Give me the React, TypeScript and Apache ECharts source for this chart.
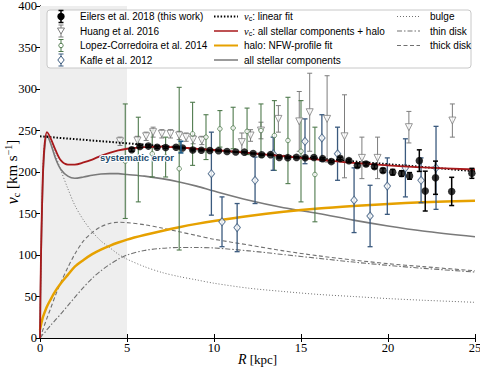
import React, { useEffect, useRef } from 'react';
import * as echarts from 'echarts';

// ---------- data ----------
const eilersR = [5.27, 5.74, 6.23, 6.73, 7.22, 7.82, 8.19, 8.78, 9.27, 9.76, 10.26, 10.75, 11.25, 11.75, 12.25, 12.74, 13.25, 13.75, 14.24, 14.74, 15.24, 15.74, 16.24, 16.74, 17.25, 17.75, 18.24, 18.74, 19.22, 19.71, 20.27, 20.78, 21.24, 21.8, 22.14, 22.73, 23.66, 24.82];
const eilersV = [226.8, 230.8, 231.2, 229.9, 229.6, 229.9, 228.9, 226.5, 226.2, 225.9, 225.7, 224.7, 224.0, 223.9, 222.2, 220.8, 220.9, 217.5, 217.3, 217.6, 217.1, 217.4, 216.1, 212.5, 216.4, 213.7, 207.9, 209.6, 206.5, 201.9, 199.8, 198.1, 195.3, 213.7, 177.0, 193.1, 176.6, 198.4];
const eilersErr = [1.9, 1.4, 1.4, 1.4, 1.2, 0.9, 0.7, 1.0, 0.7, 0.5, 0.4, 0.4, 0.3, 0.4, 0.5, 0.6, 0.6, 0.7, 0.7, 0.7, 1.0, 0.9, 1.2, 1.2, 1.5, 1.8, 2.3, 2.2, 2.4, 2.5, 3.3, 3.3, 4.0, 13, 24, 20, 17, 6];

const huangR = [4.6, 5.6, 6.1, 6.5, 7.0, 7.5, 8.0, 8.4, 8.8, 9.3, 11.6, 12.1, 12.7, 13.7, 14.9, 15.5, 16.5, 17.5, 18.5, 19.4, 21.2, 23.7];
const huangV = [237, 238, 243, 248, 246, 246, 244, 242, 239, 238, 236, 244, 250, 264, 261, 272, 264, 243, 217, 217, 254, 262];
const huangErr = [5, 5, 5, 6, 5, 5, 5, 5, 5, 5, 11, 7, 10, 16, 36, 47, 52, 50, 25, 25, 19, 20];

const lopezR = [4.9, 5.65, 6.45, 7.22, 8.0, 8.77, 9.54, 10.34, 11.1, 11.9, 12.7, 13.47, 14.25, 15.0, 15.8];
const lopezV = [213, 215, 222, 218, 204, 246, 242, 252, 253, 249, 250, 244, 238, 225, 197];
const lopezErr = [69, 51, 28, 24, 98, 38, 27, 22, 25, 28, 32, 42, 52, 61, 57];

const kafleR = [9.85, 10.46, 11.33, 12.36, 13.4, 15.23, 16.2, 17.1, 18.05, 18.97, 19.96, 21.0, 21.9, 22.76];
const kafleV = [198, 140, 133, 190, 222, 237, 241, 222, 166, 147, 183, 205, 190, 205];
const kafleErr = [50, 30, 29, 28, 20, 27, 28, 32, 39, 37, 34, 35, 27, 50];

const sysR = [8.1];
const sysLo = [223];
const sysHi = [237];

const linFitR = [0, 25];
const linFitV = [243, 201];

const curveR = [0, 0.05, 0.15, 0.25, 0.4, 0.6, 0.9, 1.2, 1.6, 2, 2.5, 3, 3.5, 4, 4.5, 5, 6, 7, 8, 9, 10, 12, 14, 16, 18, 20, 22, 25];
const totalV = [0, 90, 186, 230, 248, 241, 226, 214, 209, 209, 211.5, 215, 219.5, 223, 226, 228, 230, 230.5, 229.5, 228, 226.5, 223, 219, 215, 211, 208, 205.5, 203];
const stellarV = [0, 85, 180, 224, 244, 235, 216, 203, 195, 192.5, 194, 196, 197.5, 198, 198, 197, 195, 192, 188, 183, 177, 166, 157, 150, 142, 135, 129, 122];
const haloV = [10, 15, 24, 30, 38, 46, 57, 66, 76, 86, 94, 101, 106.5, 111, 115, 118.5, 124, 129, 133.5, 137.5, 141, 147, 152, 156, 159, 161.5, 163.5, 165.5];
const thickV = [0, 3, 9, 15, 24, 35, 52, 67, 85, 101, 117, 127, 134, 138, 139.5, 139, 136.5, 132.5, 128, 123.5, 119, 112, 105, 99, 94, 89.5, 86, 81];
const thinV = [0, 1, 4, 6, 10, 15, 22, 29, 39, 49, 61, 72, 81, 88.5, 95, 100, 105.5, 108, 109, 109, 108.5, 105, 100.5, 96, 91.5, 87.5, 84, 79.5];
const bulgeV = [0, 80, 190, 232, 244, 238, 220, 202, 180, 160, 142, 128, 117, 109, 101, 95, 86, 79, 74, 70, 66, 60, 56, 52.5, 50, 47.5, 45.5, 43];

const shadeRange = [0, 5];
const xTicks = { min: 0, max: 25, interval: 5 };
const yTicks = { min: 0, max: 400, interval: 50 };

const col1Labels = ['Eilers et al. 2018 (this work)', 'Huang et al. 2016', 'Lopez-Corredoira et al. 2014', 'Kafle et al. 2012'];
const col2Labels = ['{v|v}{c|c}: linear fit', '{v|v}{c|c}: all stellar components + halo', 'halo: NFW-profile fit', 'all stellar components'];
const col3Labels = ['bulge', 'thin disk', 'thick disk'];

// ---------- styles ----------
const C = {
  eilers: '#000000',
  huang: '#7d7d7d',
  lopez: '#4f7a4d',
  kafle: '#3b5a7e',
  red: '#a8191b',
  orange: '#e6a100',
  stellar: '#7a7a7a',
  comp: '#707070',
  sys: '#1d5a86',
};
const serif = 'Liberation Serif, Times New Roman, serif';
const sans = 'Liberation Sans, Arial, sans-serif';
const LZ = 100;

const zip = (a: number[], b: number[]) => a.map((x, i) => [x, b[i]]);

function errSeries(name: string, R: number[], V: number[], E: number[], color: string, lw: number, cap: number, z: number) {
  return {
    type: 'custom',
    name,
    z,
    silent: true,
    data: R.map((r, i) => [r, V[i] - E[i], V[i] + E[i]]),
    encode: { x: 0, y: [1, 2] },
    renderItem: (_p: any, api: any) => {
      const lo = api.coord([api.value(0), api.value(1)]);
      const hi = api.coord([api.value(0), api.value(2)]);
      const st = { stroke: color, lineWidth: lw };
      return {
        type: 'group',
        children: [
          { type: 'line', shape: { x1: lo[0], y1: lo[1], x2: hi[0], y2: hi[1] }, style: st },
          { type: 'line', shape: { x1: lo[0] - cap, y1: lo[1], x2: lo[0] + cap, y2: lo[1] }, style: st },
          { type: 'line', shape: { x1: hi[0] - cap, y1: hi[1], x2: hi[0] + cap, y2: hi[1] }, style: st },
        ],
      };
    },
  };
}

function curve(name: string, V: number[], color: string, width: number, type: any, z = 2) {
  return {
    type: 'line',
    name,
    z,
    data: zip(curveR, V),
    showSymbol: false,
    symbol: 'none',
    smooth: 0.3,
    silent: true,
    lineStyle: { color, width, type },
  };
}

function buildLegend() {
  const rows = [16.5, 31, 45.5, 60];
  const els: any[] = [];
  els.push({
    type: 'rect', z: LZ,
    shape: { x: 47, y: 10, width: 424, height: 58, r: 3 },
    style: { fill: 'rgba(255,255,255,0.9)', stroke: '#c8c8c8', lineWidth: 1 },
  });
  const mx = 61;
  const bar = (y: number, color: string, lw: number) => [
    { type: 'line', z: LZ + 1, shape: { x1: mx, y1: y - 6, x2: mx, y2: y + 6 }, style: { stroke: color, lineWidth: lw } },
    { type: 'line', z: LZ + 1, shape: { x1: mx - 2.5, y1: y - 6, x2: mx + 2.5, y2: y - 6 }, style: { stroke: color, lineWidth: lw } },
    { type: 'line', z: LZ + 1, shape: { x1: mx - 2.5, y1: y + 6, x2: mx + 2.5, y2: y + 6 }, style: { stroke: color, lineWidth: lw } },
  ];
  els.push(...bar(rows[0], C.eilers, 1.5));
  els.push({ type: 'circle', z: LZ + 2, shape: { cx: mx, cy: rows[0], r: 3.7 }, style: { fill: '#000' } });
  els.push(...bar(rows[1], C.huang, 1));
  els.push({ type: 'polygon', z: LZ + 2, shape: { points: [[mx - 3.5, rows[1] - 3], [mx + 3.5, rows[1] - 3], [mx, rows[1] + 3]] }, style: { fill: '#fff', stroke: C.huang, lineWidth: 1 } });
  els.push(...bar(rows[2], C.lopez, 1));
  els.push({ type: 'circle', z: LZ + 2, shape: { cx: mx, cy: rows[2], r: 2.2 }, style: { fill: '#fff', stroke: C.lopez, lineWidth: 1 } });
  els.push(...bar(rows[3], C.kafle, 1));
  els.push({ type: 'polygon', z: LZ + 2, shape: { points: [[mx, rows[3] - 4], [mx + 3.2, rows[3]], [mx, rows[3] + 4], [mx - 3.2, rows[3]]] }, style: { fill: '#fff', stroke: C.kafle, lineWidth: 1 } });
  const fs = 10;
  col1Labels.forEach((t, i) => {
    els.push({ type: 'text', z: LZ + 2, x: 80, y: rows[i], style: { text: t, fontFamily: sans, fontSize: fs, fill: '#000', verticalAlign: 'middle', align: 'left' } });
  });
  const col2Lines = [
    { color: '#000', width: 2, dash: [1.5, 1.8] },
    { color: C.red, width: 1.5, dash: null },
    { color: C.orange, width: 2, dash: null },
    { color: C.stellar, width: 1.5, dash: null },
  ];
  col2Lines.forEach((l, i) => {
    els.push({ type: 'line', z: LZ + 1, shape: { x1: 214, y1: rows[i], x2: 238, y2: rows[i] }, style: { stroke: l.color, lineWidth: l.width, lineDash: l.dash || undefined } });
  });
  const rich = {
    v: { fontFamily: serif, fontStyle: 'italic', fontSize: 10.5 },
    c: { fontFamily: sans, fontSize: 7, verticalAlign: 'bottom', lineHeight: 8 },
  };
  col2Labels.forEach((t, i) => {
    els.push({ type: 'text', z: LZ + 2, x: 244, y: rows[i], style: { text: t, rich, fontFamily: sans, fontSize: fs, fill: '#000', verticalAlign: 'middle', align: 'left' } });
  });
  const col3Lines = [
    { color: C.comp, width: 1, dash: [1, 2] },
    { color: C.comp, width: 1.1, dash: [5, 2, 1.5, 2] },
    { color: C.comp, width: 1.1, dash: [4, 2.5] },
  ];
  col3Lines.forEach((l, i) => {
    els.push({ type: 'line', z: LZ + 1, shape: { x1: 397, y1: rows[i], x2: 420, y2: rows[i] }, style: { stroke: l.color, lineWidth: l.width, lineDash: l.dash } });
  });
  col3Labels.forEach((t, i) => {
    els.push({ type: 'text', z: LZ + 2, x: 430, y: rows[i], style: { text: t, fontFamily: sans, fontSize: fs, fill: '#000', verticalAlign: 'middle', align: 'left' } });
  });
  return els;
}

function buildOption() {
  const axisCommon = {
    axisLine: { show: true, lineStyle: { color: '#000', width: 1 } },
    axisTick: { show: true, inside: true, length: 4, lineStyle: { color: '#000' } },
    splitLine: { show: false },
  };
  return {
    animation: false,
    backgroundColor: '#fff',
    grid: { left: 40, right: 5, top: 6, bottom: 31, containLabel: false, outerBoundsMode: 'none' },
    xAxis: [
      {
        type: 'value', ...xTicks, position: 'bottom',
        ...axisCommon,
        axisLabel: { fontFamily: serif, fontSize: 12.5, color: '#000', margin: 3 },
        name: '{i|R} [kpc]',
        nameLocation: 'middle',
        nameGap: 14,
        nameMoveOverlap: false,
        nameTextStyle: { fontFamily: serif, fontSize: 13, color: '#000', rich: { i: { fontFamily: serif, fontStyle: 'italic', fontSize: 14 } } },
      },
      { type: 'value', ...xTicks, position: 'top', ...axisCommon, axisLabel: { show: false } },
    ],
    yAxis: [
      {
        type: 'value', ...yTicks, position: 'left',
        ...axisCommon,
        axisLabel: { fontFamily: serif, fontSize: 12.5, color: '#000', margin: 3 },
        name: '{v|v}{c|c} [km s{e|−1}]',
        nameLocation: 'middle',
        nameGap: 19,
        nameMoveOverlap: false,
        nameTextStyle: {
          fontFamily: serif, fontSize: 15, color: '#000',
          rich: {
            v: { fontFamily: serif, fontStyle: 'italic', fontSize: 16, lineHeight: 18 },
            c: { fontFamily: serif, fontSize: 10, lineHeight: 10, verticalAlign: 'bottom' },
            e: { fontFamily: serif, fontSize: 10, lineHeight: 10, verticalAlign: 'top' },
          },
        },
      },
      { type: 'value', ...yTicks, position: 'right', ...axisCommon, axisLabel: { show: false } },
    ],
    graphic: { elements: buildLegend() },
    series: [
      {
        type: 'line', name: 'shade', z: 0, silent: true, symbol: 'none',
        data: [[shadeRange[0], 0], [shadeRange[1], 0]],
        lineStyle: { opacity: 0 },
        markArea: { silent: true, itemStyle: { color: '#eeeeee' }, data: [[{ xAxis: shadeRange[0] }, { xAxis: shadeRange[1] }]] },
      },
      curve('bulge', bulgeV, C.comp, 1, [1, 2]),
      curve('thin disk', thinV, C.comp, 1.1, [5, 2, 1.5, 2]),
      curve('thick disk', thickV, C.comp, 1.1, [4, 2.5]),
      curve('all stellar components', stellarV, C.stellar, 1.6, 'solid'),
      curve('halo: NFW-profile fit', haloV, C.orange, 2.5, 'solid'),
      errSeries('Huang err', huangR, huangV, huangErr, C.huang, 1, 2.5, 3),
      errSeries('Lopez err', lopezR, lopezV, lopezErr, C.lopez, 1.1, 2.5, 3),
      errSeries('Kafle err', kafleR, kafleV, kafleErr, C.kafle, 1.3, 2.5, 3),
      {
        type: 'scatter', name: 'Huang et al. 2016', z: 4, silent: true,
        data: zip(huangR, huangV), symbol: 'triangle', symbolRotate: 180, symbolSize: 7,
        itemStyle: { color: '#fff', borderColor: C.huang, borderWidth: 1 },
      },
      {
        type: 'scatter', name: 'Lopez-Corredoira et al. 2014', z: 4, silent: true,
        data: zip(lopezR, lopezV), symbol: 'circle', symbolSize: 4.5,
        itemStyle: { color: '#fff', borderColor: C.lopez, borderWidth: 1 },
      },
      {
        type: 'scatter', name: 'Kafle et al. 2012', z: 4, silent: true,
        data: zip(kafleR, kafleV), symbol: 'diamond', symbolSize: [6.5, 8],
        itemStyle: { color: '#fff', borderColor: C.kafle, borderWidth: 1 },
      },
      {
        type: 'line', name: 'linear fit', z: 5, silent: true, symbol: 'none',
        data: zip(linFitR, linFitV),
        lineStyle: { color: '#000', width: 2, type: [1.5, 1.8] },
      },
      curve('all stellar components + halo', totalV, C.red, 1.8, 'solid', 5),
      errSeries('Eilers err', eilersR, eilersV, eilersErr, C.eilers, 1.5, 2.5, 6),
      {
        type: 'scatter', name: 'Eilers et al. 2018 (this work)', z: 7, silent: true,
        data: zip(eilersR, eilersV), symbol: 'circle', symbolSize: 7.5,
        itemStyle: { color: '#000' },
      },
      {
        type: 'custom', name: 'systematic error', z: 8, silent: true,
        data: sysR.map((r, i) => [r, sysLo[i], sysHi[i]]),
        encode: { x: 0, y: [1, 2] },
        renderItem: (_p: any, api: any) => {
          const lo = api.coord([api.value(0), api.value(1)]);
          const hi = api.coord([api.value(0), api.value(2)]);
          const st = { stroke: C.sys, lineWidth: 1.6 };
          return {
            type: 'group',
            children: [
              { type: 'line', shape: { x1: lo[0], y1: lo[1], x2: hi[0], y2: hi[1] }, style: st },
              { type: 'line', shape: { x1: lo[0] - 2.5, y1: lo[1], x2: lo[0] + 2.5, y2: lo[1] }, style: st },
              { type: 'line', shape: { x1: hi[0] - 2.5, y1: hi[1], x2: hi[0] + 2.5, y2: hi[1] }, style: st },
              {
                type: 'text', x: lo[0] - 44, y: lo[1] + 5,
                style: { text: 'systematic error', fontFamily: sans, fontWeight: 'bold', fontSize: 9.5, fill: '#1b4b6e', align: 'center', verticalAlign: 'middle', stroke: '#fff', lineWidth: 2 },
              },
            ],
          };
        },
      },
    ],
  };
}

export default function App() {
  const ref = useRef<HTMLDivElement>(null);
  useEffect(() => {
    if (!ref.current) return;
    const chart = echarts.init(ref.current, null, { renderer: 'svg' });
    chart.setOption(buildOption() as any);
    return () => chart.dispose();
  }, []);
  return <div ref={ref} style={{ position: 'fixed', left: 0, top: 0, width: 480, height: 369 }} />;
}
